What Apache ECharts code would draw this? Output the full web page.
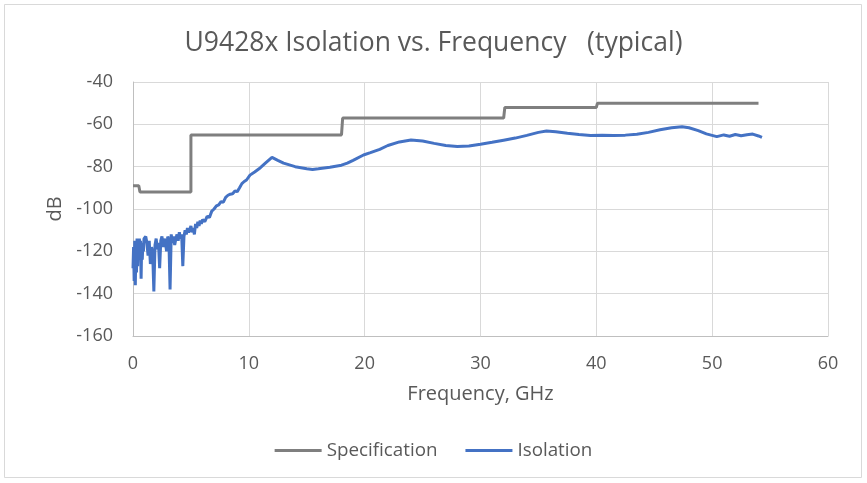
<!DOCTYPE html>
<html>
<head>
<meta charset="utf-8">
<script src="https://cdn.jsdelivr.net/npm/echarts@6/dist/echarts.min.js"></script>
<style>
  html, body { margin: 0; padding: 0; background: #fff; }
  #chart { width: 867px; height: 483px; }
</style>
</head>
<body>
<div id="chart"></div>
<script>
// Specification limit (step), GHz / dB
const specFreq = [0, 0.5, 0.6, 5, 5, 18, 18.1, 32, 32.1, 40, 40.1, 54]
const specDb = [-89, -89, -92, -92, -65, -65, -57, -57, -52, -52, -50, -50]

// Measured isolation, GHz / dB
const isoFreq = [
  0.00, 0.05, 0.10, 0.15, 0.20, 0.25, 0.30, 0.35, 0.40, 0.45,
  0.50, 0.55, 0.60, 0.65, 0.70, 0.75, 0.80, 0.85, 0.90, 0.95,
  1.0, 1.1, 1.2, 1.3, 1.4, 1.5, 1.6, 1.7, 1.8, 1.9,
  2.0, 2.1, 2.2, 2.3, 2.4, 2.5, 2.6, 2.7, 2.8, 2.9,
  3.0, 3.1, 3.2, 3.3, 3.4, 3.5, 3.6, 3.7, 3.8, 3.9,
  4.0, 4.1, 4.2, 4.3, 4.4, 4.5, 4.6, 4.7, 4.8, 4.9,
  5.0, 5.1, 5.2, 5.3, 5.4, 5.5, 5.6, 5.7, 5.8, 5.9,
  6.0, 6.2, 6.4, 6.6, 6.8, 7.0, 7.2, 7.4, 7.6, 7.8,
  8.0, 8.2, 8.4, 8.6, 8.8, 9.0, 9.2, 9.4, 9.6, 9.8,
  10.1, 10.5, 11.0, 11.5, 12.0, 12.5, 13.0, 14.0, 15.0, 15.5,
  16.0, 17.0, 18.0, 18.5, 19.0, 19.9, 20.5, 21.3, 22.0, 23.0,
  24.0, 25.0, 26.0, 27.0, 28.0, 29.0, 30.0, 31.0, 32.0, 33.0,
  34.0, 35.0, 35.7, 36.5, 37.5, 38.5, 39.5, 40.5, 41.5, 42.5,
  43.5, 44.5, 45.5, 46.5, 47.4, 48.0, 48.8, 49.5, 50.4, 51.0,
  51.5, 52.0, 52.5, 53.0, 53.5, 54.0, 54.3
]
const isoDb = [
  -128, -118, -134, -115, -136, -117, -130, -114, -127, -116,
  -121, -114, -119, -115, -133, -116, -124, -117, -120, -114,
  -114, -113, -116, -122, -115, -126, -118, -121, -139, -117,
  -114, -119, -116, -128, -115, -113, -118, -114, -116, -120,
  -113, -115, -138, -112, -116, -113, -117, -114, -112, -115,
  -111, -114, -112, -127, -113, -110, -112, -109, -111, -110,
  -108, -111, -109, -112, -107, -109, -106, -108, -105.5, -107,
  -105, -106, -103.5, -104, -101, -100, -98.5, -98, -96.5, -96.8,
  -94.5, -93.5, -93, -92.8, -91.5, -91.8, -90, -88, -87, -86.3,
  -84, -82.5, -80.5, -78, -75.6, -77, -78.3, -80, -81, -81.3,
  -81, -80.3, -79.3, -78.3, -77, -74.5, -73.4, -71.8, -70, -68.3,
  -67.4, -67.9, -69, -70, -70.5, -70.2, -69.4, -68.5, -67.5, -66.5,
  -65.2, -63.8, -63.2, -63.5, -64.2, -64.8, -65.3, -65.2, -65.3, -65.1,
  -64.7, -63.8, -62.6, -61.6, -61.1, -61.6, -63, -64.5, -65.8, -65,
  -65.6, -64.8, -65.4, -64.9, -64.6, -65.5, -66.2
]

const xTicks = [0, 10, 20, 30, 40, 50, 60]
const yTicks = [-160, -140, -120, -100, -80, -60, -40]

const textColor = '#595959'
const gridColor = '#d9d9d9'
const font = '"Open Sans", "Noto Sans", sans-serif'

const chart = echarts.init(document.getElementById('chart'))

const option = {
  animation: false,
  backgroundColor: '#fff',
  graphic: [
    {
      type: 'rect',
      shape: { x: 4.5, y: 4.5, width: 857, height: 473 },
      style: { fill: 'none', stroke: '#d9d9d9', lineWidth: 1 },
      silent: true
    }
  ],
  title: {
    text: 'U9428x Isolation vs. Frequency   (typical)',
    left: 'center',
    top: 25,
    textStyle: {
      color: textColor,
      fontFamily: font,
      fontSize: 26.5,
      fontWeight: 'normal'
    }
  },
  legend: {
    top: 436,
    left: 'center',
    itemWidth: 47,
    itemHeight: 3,
    itemGap: 28,
    icon: 'rect',
    textStyle: { color: textColor, fontFamily: font, fontSize: 18.8 },
    data: ['Specification', 'Isolation']
  },
  grid: {
    left: 133,
    right: 39,
    top: 82,
    bottom: 147
  },
  xAxis: {
    type: 'value',
    min: xTicks[0],
    max: xTicks[xTicks.length - 1],
    interval: 10,
    name: 'Frequency, GHz',
    nameLocation: 'middle',
    nameGap: 48,
    nameTextStyle: { color: textColor, fontFamily: font, fontSize: 20 },
    axisLine: { lineStyle: { color: '#bfbfbf', width: 1 } },
    axisTick: { show: false },
    axisLabel: { color: textColor, fontFamily: font, fontSize: 18, margin: 19 },
    splitLine: { show: true, lineStyle: { color: gridColor, width: 1 } }
  },
  yAxis: {
    type: 'value',
    min: yTicks[0],
    max: yTicks[yTicks.length - 1],
    interval: 20,
    name: 'dB',
    nameLocation: 'middle',
    nameGap: 64,
    nameRotate: 90,
    nameTextStyle: { color: textColor, fontFamily: font, fontSize: 20 },
    axisLine: { show: true, lineStyle: { color: '#bfbfbf', width: 1 } },
    axisTick: { show: false },
    axisLabel: { color: textColor, fontFamily: font, fontSize: 18, margin: 20 },
    splitLine: { show: true, lineStyle: { color: gridColor, width: 1 } }
  },
  series: [
    {
      name: 'Specification',
      type: 'line',
      showSymbol: false,
      symbol: 'none',
      data: specFreq.map((f, i) => [f, specDb[i]]),
      lineStyle: { color: '#7f7f7f', width: 3 },
      itemStyle: { color: '#7f7f7f' }
    },
    {
      name: 'Isolation',
      type: 'line',
      showSymbol: false,
      symbol: 'none',
      data: isoFreq.map((f, i) => [f, isoDb[i]]),
      lineStyle: { color: '#4472c4', width: 3 },
      itemStyle: { color: '#4472c4' }
    }
  ]
}

chart.setOption(option)
</script>
</body>
</html>
